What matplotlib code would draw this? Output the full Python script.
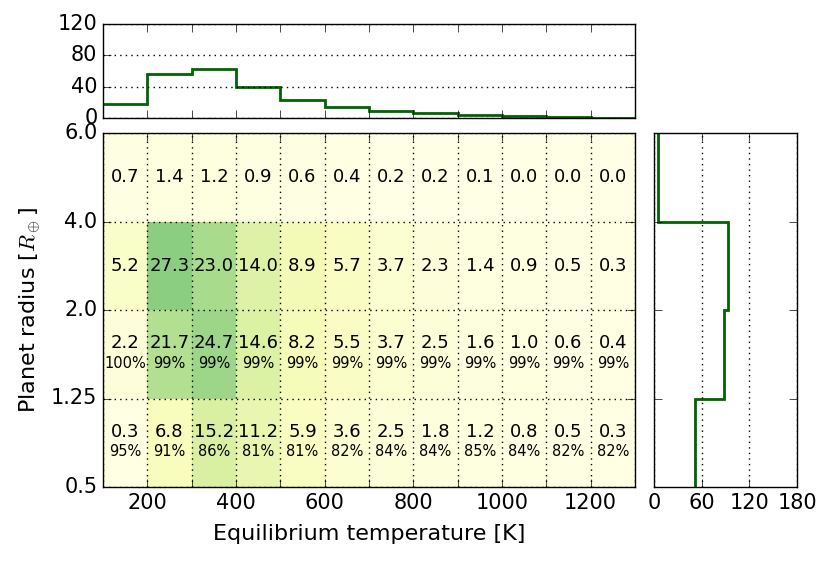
import matplotlib
matplotlib.use("Agg")
import matplotlib.pyplot as plt
import numpy as np

plt.style.use("classic")
plt.rcParams["font.family"] = ["DejaVu Sans"]
plt.rcParams["mathtext.fontset"] = "cm"

temp_edges = [100, 200, 300, 400, 500, 600, 700, 800, 900, 1000, 1100, 1200, 1300]
radius_labels = ["0.5", "1.25", "2.0", "4.0", "6.0"]

# rows from bottom (0.5-1.25) to top (4.0-6.0)
occ_row0 = [0.3, 6.8, 15.2, 11.2, 5.9, 3.6, 2.5, 1.8, 1.2, 0.8, 0.5, 0.3]
occ_row1 = [2.2, 21.7, 24.7, 14.6, 8.2, 5.5, 3.7, 2.5, 1.6, 1.0, 0.6, 0.4]
occ_row2 = [5.2, 27.3, 23.0, 14.0, 8.9, 5.7, 3.7, 2.3, 1.4, 0.9, 0.5, 0.3]
occ_row3 = [0.7, 1.4, 1.2, 0.9, 0.6, 0.4, 0.2, 0.2, 0.1, 0.0, 0.0, 0.0]

pct_row0 = [95, 91, 86, 81, 81, 82, 84, 84, 85, 84, 82, 82]
pct_row1 = [100, 99, 99, 99, 99, 99, 99, 99, 99, 99, 99, 99]

top_hist = [18, 56, 63, 40, 23, 14.5, 9, 6, 3.5, 2.1, 1.3, 0.6]
right_hist = [52, 88, 93, 5]

occ = np.array([occ_row0, occ_row1, occ_row2, occ_row3])
pcts = [pct_row0, pct_row1, None, None]

W, H = 831, 562
fig = plt.figure(figsize=(W / 100, H / 100), dpi=100, facecolor="white")

def rect(l, r, t, b):
    return [l / W, 1 - b / H, (r - l) / W, (b - t) / H]

ax = fig.add_axes(rect(103, 635, 133, 487))
axt = fig.add_axes(rect(103, 635, 24, 118))
axr = fig.add_axes(rect(654, 797, 133, 487))

xe = np.array(temp_edges)
ye = np.arange(len(radius_labels))
ax.pcolormesh(xe, ye, occ, cmap="YlGn", vmin=0, vmax=60, shading="flat")
ax.set_xlim(100, 1300)
ax.set_ylim(0, 4)
ax.set_xticks(temp_edges)
ax.set_xticklabels([str(t) if t % 200 == 0 and 100 < t < 1300 else "" for t in temp_edges])
ax.set_yticks(ye)
ax.set_yticklabels(radius_labels)
ax.grid(True, linestyle=":", color="black", linewidth=1)
ax.tick_params(labelsize=15, length=6)
ax.set_xlabel("Equilibrium temperature [K]", fontsize=16, labelpad=8)
ax.set_ylabel(r"Planet radius [$R_\oplus$]", fontsize=16, labelpad=6)

xc = (xe[:-1] + xe[1:]) / 2
for i in range(occ.shape[0]):
    for j in range(occ.shape[1]):
        if pcts[i] is not None:
            ax.text(xc[j], i + 0.625, f"{occ[i, j]:.1f}", ha="center", va="center", fontsize=13)
            ax.text(xc[j], i + 0.40, f"{pcts[i][j]}%", ha="center", va="center", fontsize=10.5)
        else:
            ax.text(xc[j], i + 0.5, f"{occ[i, j]:.1f}", ha="center", va="center", fontsize=13)

axt.stairs(top_hist, xe, baseline=None, color="darkgreen", linewidth=2)
axt.set_xlim(100, 1300)
axt.set_ylim(0, 120)
axt.set_yticks([0, 40, 80, 120])
axt.set_xticks(temp_edges)
axt.set_xticklabels([])
axt.yaxis.grid(True, linestyle=":", color="black", linewidth=1)
axt.tick_params(labelsize=15, length=6)

axr.stairs(right_hist, ye, baseline=None, orientation="horizontal", color="darkgreen", linewidth=2)
axr.set_ylim(0, 4)
axr.set_xlim(0, 180)
axr.set_xticks([0, 60, 120, 180])
axr.set_yticks(ye)
axr.set_yticklabels([])
axr.xaxis.grid(True, linestyle=":", color="black", linewidth=1)
axr.tick_params(labelsize=15, length=6)

fig.savefig("out.png", dpi=100, facecolor="white")
